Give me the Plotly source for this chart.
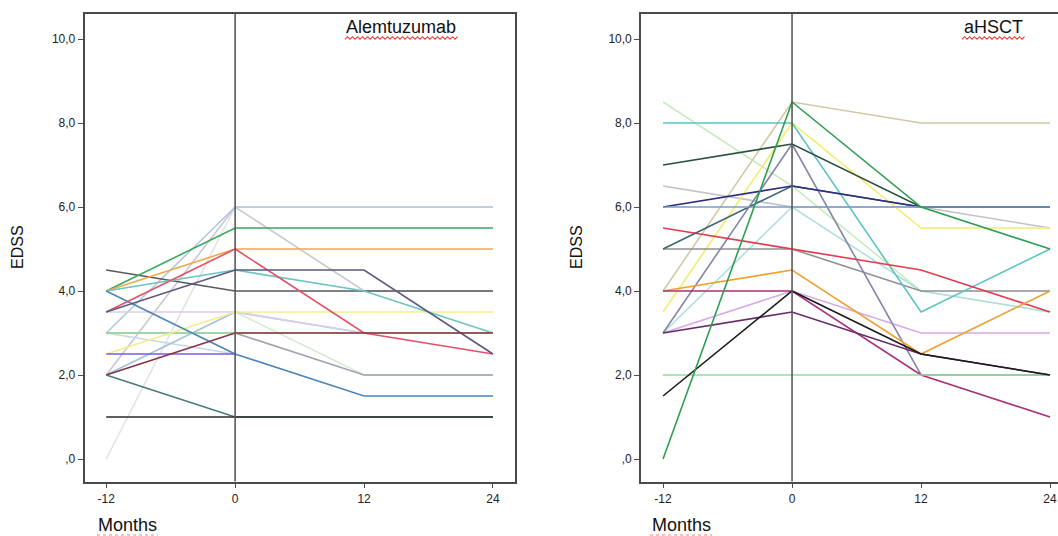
import plotly.graph_objects as go

W, H = 1058, 536

months = [-12, 0, 12, 24]
ytick_vals = [0, 2, 4, 6, 8, 10]
ytick_text = [",0", "2,0", "4,0", "6,0", "8,0", "10,0"]
xtick_text = ["-12", "0", "12", "24"]

# Alemtuzumab patients: EDSS at months -12, 0, 12, 24
alem_values = [
    [0.0, 6.0, 6.0, 6.0],
    [2.0, 6.0, 4.0, 4.0],
    [3.0, 6.0, 6.0, 6.0],
    [2.0, 3.5, 2.0, 2.0],
    [3.0, 2.5, None, None],
    [2.0, 3.5, 3.0, 3.0],
    [3.5, 3.5, 3.0, 3.0],
    [3.0, 3.0, 2.0, 2.0],
    [3.0, 3.0, 3.0, 3.0],
    [2.5, 3.5, 3.5, 3.5],
    [4.5, 4.0, 4.0, 4.0],
    [4.0, 5.5, 5.5, 5.5],
    [4.0, 5.0, 5.0, 5.0],
    [4.0, 4.5, 4.0, 3.0],
    [4.0, 2.5, 1.5, 1.5],
    [3.5, 5.0, 3.0, 2.5],
    [3.5, 4.5, 4.5, 2.5],
    [2.5, 2.5, None, None],
    [2.0, 3.0, 3.0, 3.0],
    [2.0, 1.0, 1.0, 1.0],
    [1.0, 1.0, 1.0, 1.0],
]
alem_colors = [
    "#e2e2e2", "#c8c8d2", "#b4c6dc", "#d4ecd0", "#c4d8e8", "#a8c4e4",
    "#dccbf0", "#a0a0b0", "#98e098", "#f2ee8a", "#5a5a5a", "#3aa860",
    "#f0a848", "#6cc4c0", "#4a86b8", "#e4506a", "#5a5a80", "#7a5ae8",
    "#8a3040", "#4a7a78", "#2a2a2a",
]

# aHSCT patients: EDSS at months -12, 0, 12, 24
ahsct_values = [
    [8.5, 6.5, 4.0, 3.5],
    [3.0, 6.0, 4.0, 3.5],
    [6.5, 6.0, 6.0, 5.5],
    [4.0, 8.5, 8.0, 8.0],
    [3.5, 8.0, 5.5, 5.5],
    [3.0, 4.0, 3.0, 3.0],
    [5.0, 5.0, 4.0, 4.0],
    [8.0, 8.0, 3.5, 5.0],
    [3.0, 7.5, 2.0, 2.0],
    [5.5, 5.0, 4.5, 3.5],
    [4.0, 4.5, 2.5, 4.0],
    [4.0, 4.0, 2.0, 1.0],
    [3.0, 3.5, 2.5, 2.0],
    [5.0, 6.5, 6.0, 6.0],
    [6.0, 6.5, 6.0, 6.0],
    [7.0, 7.5, 6.0, 6.0],
    [6.0, 6.0, 6.0, 6.0],
    [2.0, 2.0, 2.0, 2.0],
    [1.5, 4.0, 2.5, 2.0],
    [0.0, 8.5, 6.0, 5.0],
]
ahsct_colors = [
    "#c8ecc0", "#b0e0dc", "#c4c0c8", "#d0c8a8", "#f4ec6c", "#d8a8e8",
    "#909090", "#5cc4c4", "#8484a8", "#e03c50", "#f0a030", "#a8307c",
    "#6a2a6a", "#3c6478", "#2c2c80", "#2a5040", "#7a9cc8", "#90dc98",
    "#1a1a1a", "#2ca050",
]

panel_titles = ["Alemtuzumab", "aHSCT"]
y_title = "EDSS"
x_title = "Months"

fig = go.Figure()

for vals, col in zip(alem_values, alem_colors):
    fig.add_trace(go.Scatter(x=months, y=vals, mode="lines", xaxis="x", yaxis="y",
                             line=dict(color=col, width=1.6), connectgaps=False,
                             showlegend=False, hoverinfo="skip"))
for vals, col in zip(ahsct_values, ahsct_colors):
    fig.add_trace(go.Scatter(x=months, y=vals, mode="lines", xaxis="x2", yaxis="y2",
                             line=dict(color=col, width=1.6), connectgaps=False,
                             showlegend=False, hoverinfo="skip"))

def px_x(p):
    return p / W

def px_y(p):
    return 1 - p / H

frame_col = "#4a4a4a"
tickfont = dict(family="Liberation Sans, Arial, sans-serif", size=12, color="#222222")

y_dom = [px_y(481.5), px_y(14)]
y_rng = [(459 - 481.5) / 42.0, (459 - 14) / 42.0]

common_x = dict(tickmode="array", tickvals=months, ticktext=xtick_text, ticks="outside",
                ticklen=5, tickwidth=1.3, tickcolor=frame_col, showgrid=False, zeroline=False,
                showline=True, linecolor=frame_col, linewidth=1.6, tickfont=tickfont,
                fixedrange=True)
common_y = dict(tickmode="array", tickvals=ytick_vals, ticktext=ytick_text, ticks="outside",
                ticklen=5, tickwidth=1.3, tickcolor=frame_col, showgrid=False, zeroline=False,
                showline=True, linecolor=frame_col, linewidth=1.6, tickfont=tickfont,
                range=y_rng, domain=y_dom, fixedrange=True)

fig.update_layout(
    width=W, height=H,
    margin=dict(l=0, r=0, t=0, b=0),
    paper_bgcolor="white", plot_bgcolor="white",
    showlegend=False,
    xaxis=dict(common_x, domain=[px_x(84.5), px_x(515)], range=[-14.02, 26.05], mirror=True, anchor="y"),
    yaxis=dict(common_y, anchor="x", mirror=True),
    xaxis2=dict(common_x, domain=[px_x(641), 1.0], range=[-14.05, 24.74], mirror=True, anchor="y2"),
    yaxis2=dict(common_y, anchor="x2", mirror=False),
)

shapes = []
# vertical reference line at month 0
for xr, yr in [("x", "y domain"), ("x2", "y2 domain")]:
    shapes.append(dict(type="line", xref=xr, yref=yr, x0=0, x1=0, y0=0, y1=1,
                       line=dict(color="#5a5a5a", width=1.6), layer="above"))

def wavy(x0, x1, yc, amp=1.3, step=2.5):
    pts = []
    x = x0
    i = 0
    while x <= x1:
        yy = yc + (amp if i % 2 == 0 else -amp)
        pts.append((px_x(x), px_y(yy)))
        x += step
        i += 1
    return "M " + " L ".join(f"{a:.5f},{b:.5f}" for a, b in pts)

for (x0, x1, yc) in [(345, 458, 38), (962, 1025, 38)]:
    shapes.append(dict(type="path", xref="paper", yref="paper", path=wavy(x0, x1, yc),
                       line=dict(color="#e8342c", width=1.1)))
for (x0, x1) in [(97, 158), (650, 712)]:
    shapes.append(dict(type="line", xref="paper", yref="paper", x0=px_x(x0), x1=px_x(x1),
                       y0=px_y(535), y1=px_y(535),
                       line=dict(color="#f08080", width=1, dash="dot")))
fig.update_layout(shapes=shapes)

ann = []
title_font = dict(family="Liberation Sans, Arial, sans-serif", size=18, color="#111111")
ann.append(dict(text=panel_titles[0], x=px_x(401), y=px_y(27), xref="paper", yref="paper",
                showarrow=False, font=title_font, xanchor="center", yanchor="middle"))
ann.append(dict(text=panel_titles[1], x=px_x(993), y=px_y(27), xref="paper", yref="paper",
                showarrow=False, font=title_font, xanchor="center", yanchor="middle"))
for xp in [18, 577]:
    ann.append(dict(text=y_title, x=px_x(xp), y=px_y(247), xref="paper", yref="paper",
                    showarrow=False, textangle=-90,
                    font=dict(family="Liberation Sans, Arial, sans-serif", size=16, color="#111111"),
                    xanchor="center", yanchor="middle"))
for xp in [127, 681]:
    ann.append(dict(text=x_title, x=px_x(xp), y=px_y(525), xref="paper", yref="paper",
                    showarrow=False,
                    font=dict(family="Liberation Sans, Arial, sans-serif", size=18, color="#111111"),
                    xanchor="center", yanchor="middle"))
fig.update_layout(annotations=ann)

fig.write_html("out.html")
